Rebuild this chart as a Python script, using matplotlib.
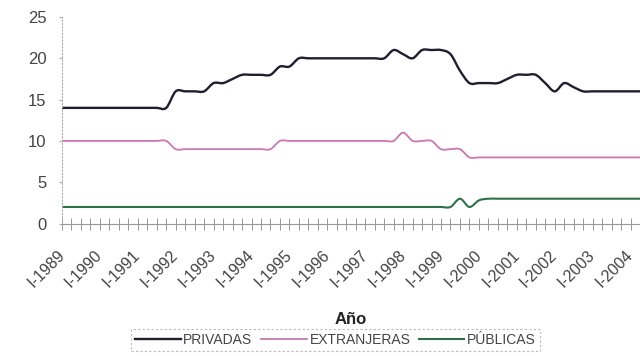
import numpy as np
import matplotlib.pyplot as plt
from matplotlib.path import Path
from matplotlib.patches import PathPatch
from matplotlib.lines import Line2D

plt.rcParams["font.family"] = ["Liberation Sans", "DejaVu Sans"]

# --- Data: quarterly series, I-1989 .. II-2004 ---
YEARS = list(range(1989, 2005))
QUARTERS = [f"{q}-{y}" for y in YEARS for q in ("I", "II", "III", "IV")][:62]

PRIVADAS = [14] * 12 + [16] * 4 + [17] * 2 + [17.5] + [18] * 4 + [19] * 2 \
    + [20] * 10 + [21, 20.5, 20] + [21] * 3 + [20.5, 18.5] + [17] * 4 \
    + [17.5] + [18] * 3 + [17, 16, 17, 16.5] + [16] * 7
EXTRANJERAS = [10] * 12 + [9] * 11 + [10] * 13 + [11] + [10] * 3 + [9] * 3 + [8] * 19
PUBLICAS = [2] * 42 + [3, 2, 2.8] + [3] * 17

SERIES = [
    ("PRIVADAS", PRIVADAS, "#1e1e30", 1.7),
    ("EXTRANJERAS", EXTRANJERAS, "#cc76b2", 1.3),
    ("PÚBLICAS", PUBLICAS, "#2e7048", 1.5),
]


def smooth_path(x, y):
    """Smoothed line through the points (cubic Bezier, Catmull-Rom tangents)."""
    pts = np.column_stack([x, y]).astype(float)
    n = len(pts)
    verts = [pts[0]]
    codes = [Path.MOVETO]
    for i in range(n - 1):
        p0 = pts[max(i - 1, 0)]
        p1 = pts[i]
        p2 = pts[i + 1]
        p3 = pts[min(i + 2, n - 1)]
        c1 = p1 + (p2 - p0) / 6.0
        c2 = p2 - (p3 - p1) / 6.0
        verts += [c1, c2, p2]
        codes += [Path.CURVE4] * 3
    return Path(verts, codes)


fig = plt.figure(figsize=(6.4, 3.56), dpi=100)
ax = fig.add_axes([62 / 640, 132.5 / 356, 578 / 640, 206.5 / 356])

x = np.arange(len(QUARTERS))
for name, vals, color, lw in SERIES:
    patch = PathPatch(smooth_path(x, vals), facecolor="none", edgecolor=color,
                      lw=lw, capstyle="round", joinstyle="round")
    ax.add_patch(patch)

ax.set_xlim(0, 60.8)
ax.set_ylim(0, 25)

# axes styling
for side in ("top", "right"):
    ax.spines[side].set_visible(False)
ax.spines["left"].set_linestyle((0, (1, 2)))
ax.spines["left"].set_color("#aaaaaa")
ax.spines["left"].set_linewidth(0.8)
ax.spines["bottom"].set_color("#999999")
ax.spines["bottom"].set_linewidth(0.8)

ax.set_yticks(range(0, 26, 5))
ax.tick_params(axis="y", length=2, color="#aaaaaa", labelsize=12,
               labelcolor="#444444", pad=9)

year_pos = x[::4]
ax.set_xticks(year_pos)
ax.set_xticklabels([q for q in QUARTERS[::4]], rotation=45, ha="right",
                   va="center", rotation_mode="anchor")
ax.set_xticks(x, minor=True)
ax.tick_params(axis="x", which="both", direction="inout", length=8,
               color="#999999", width=0.7)
ax.tick_params(axis="x", which="major", labelsize=11.5, labelcolor="#444444",
               pad=17)

fig.text(351 / 640, 1 - 319 / 356, "Año", ha="center", va="center",
         fontsize=12, fontweight="bold", color="#222222")

handles = [Line2D([], [], color=c, lw=lw) for _, _, c, lw in SERIES]
leg = fig.legend(handles, [s[0] for s in SERIES], loc="lower center",
                 bbox_to_anchor=(0.524, -0.005), ncol=3, fontsize=10,
                 frameon=True, fancybox=False, handlelength=3.3,
                 handletextpad=0.2, columnspacing=0.6, borderpad=0.3,
                 labelcolor="#444444")
frame = leg.get_frame()
frame.set_edgecolor("#aaaaaa")
frame.set_linestyle((0, (2, 2)))
frame.set_linewidth(0.8)

fig.savefig("out.png", dpi=100)
